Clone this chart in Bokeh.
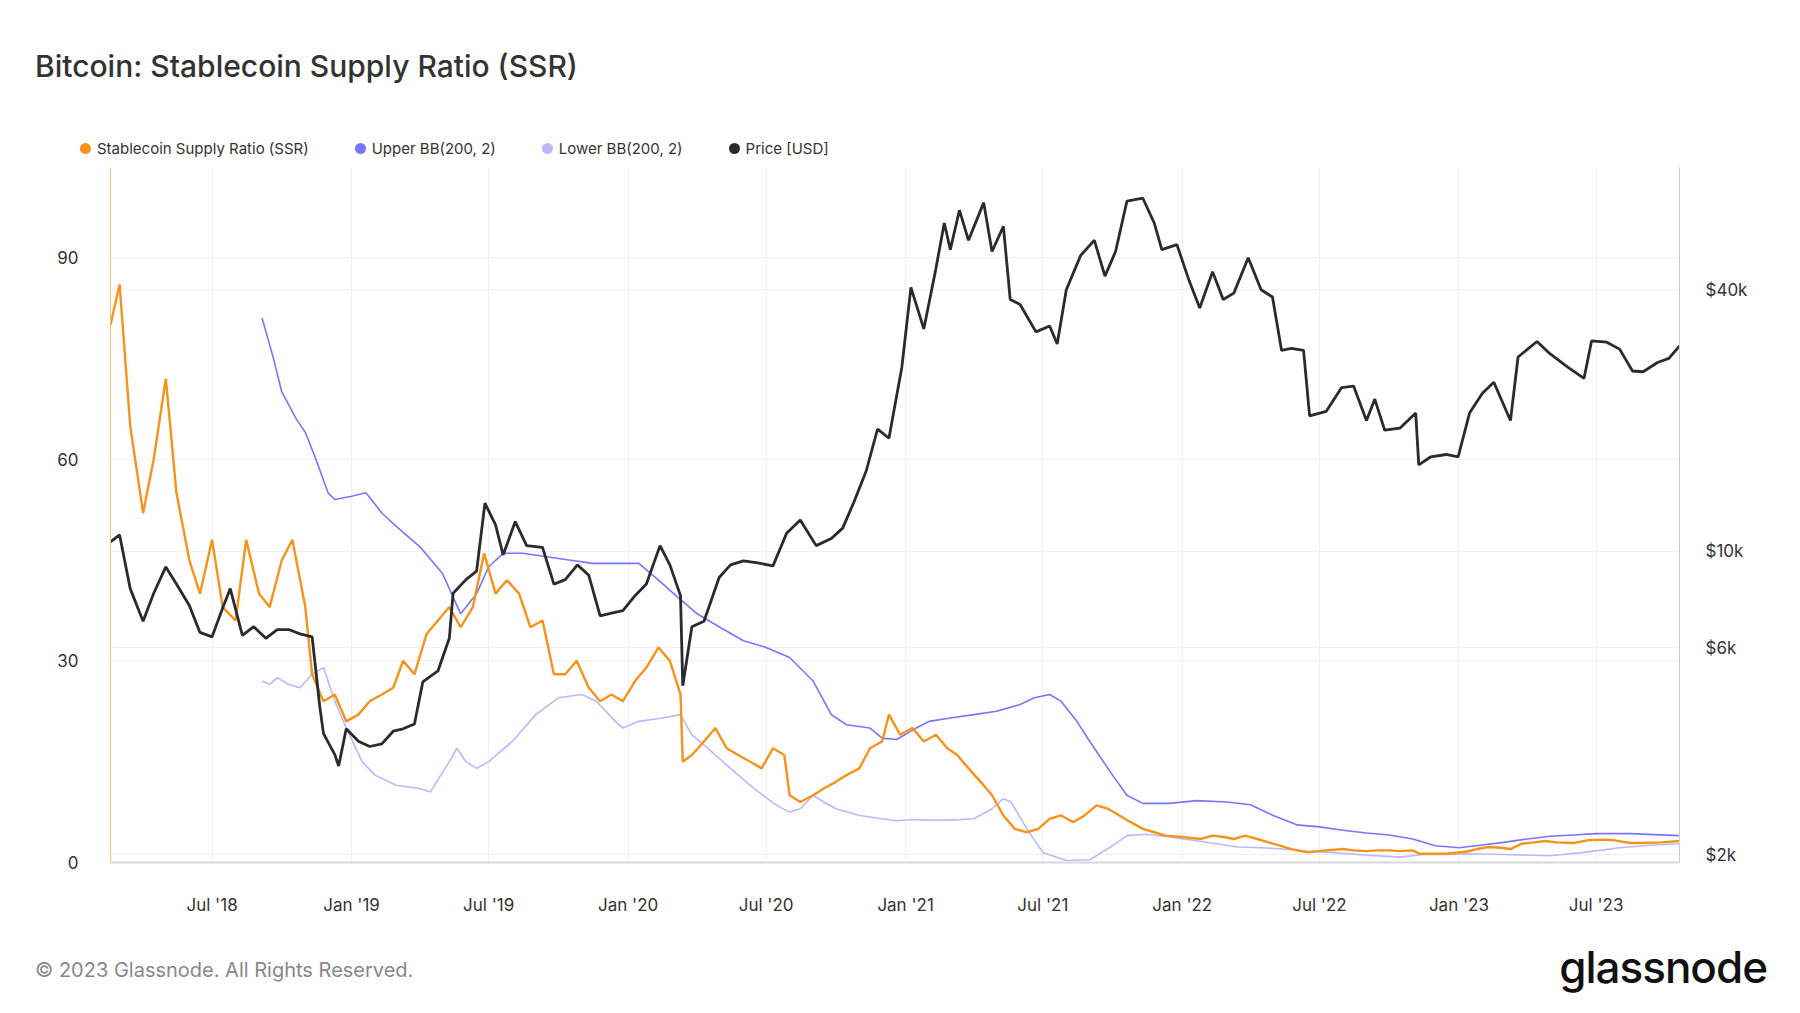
import numpy as np, pandas as pd
from datetime import datetime
from bokeh.plotting import figure
from bokeh.layouts import column
from bokeh.models import (Range1d, LogAxis, LogScale, FixedTicker, Grid, Div)
from bokeh.embed import file_html
from bokeh.resources import INLINE

ssr_dates = ["2018-02-17","2018-03-01","2018-03-15","2018-04-01","2018-04-15","2018-05-01","2018-05-15","2018-06-01","2018-06-15","2018-07-01","2018-07-15","2018-08-01","2018-08-15","2018-09-01","2018-09-15","2018-10-01","2018-10-15","2018-11-01","2018-11-10","2018-11-25","2018-12-10","2018-12-25",
"2019-01-10","2019-01-25","2019-02-10","2019-02-25","2019-03-10","2019-03-25","2019-04-10","2019-04-25","2019-05-10","2019-05-25","2019-06-10","2019-06-25","2019-07-10","2019-07-25","2019-08-10","2019-08-25","2019-09-10","2019-09-25","2019-10-10","2019-10-25","2019-11-10","2019-11-25","2019-12-10","2019-12-25",
"2020-01-10","2020-01-25","2020-02-10","2020-02-25","2020-03-10","2020-03-13","2020-03-25","2020-04-10","2020-04-25","2020-05-10","2020-05-25","2020-06-10","2020-06-25","2020-07-10","2020-07-25","2020-08-01","2020-08-15","2020-09-01","2020-09-15","2020-10-01","2020-10-15","2020-11-01","2020-11-15","2020-12-01","2020-12-10","2020-12-25",
"2021-01-10","2021-01-25","2021-02-10","2021-02-25","2021-03-10","2021-03-25","2021-04-10","2021-04-25","2021-05-10","2021-05-25","2021-06-10","2021-06-25","2021-07-10","2021-07-25","2021-08-10","2021-08-25","2021-09-10","2021-09-25","2021-10-10","2021-10-25","2021-11-10","2021-11-25","2021-12-10",
"2022-01-01","2022-01-25","2022-02-10","2022-02-25","2022-03-10","2022-03-25","2022-04-10","2022-04-25","2022-05-10","2022-05-25","2022-06-15","2022-07-10","2022-08-01","2022-08-15","2022-09-01","2022-09-15","2022-10-01","2022-10-15","2022-11-01","2022-11-10","2022-12-01","2022-12-15",
"2023-01-10","2023-01-25","2023-02-10","2023-02-25","2023-03-10","2023-03-25","2023-04-10","2023-04-25","2023-05-10","2023-06-01","2023-06-20","2023-07-10","2023-07-25","2023-08-15","2023-09-01","2023-09-25","2023-10-19"]
ssr_values = [80,86,65,52,60,72,55,45,40,48,38,36,48,40,38,45,48,38,28,24,25,21,
22,24,25,26,30,28,34,36,38,35,38,46,40,42,40,35,36,28,28,30,26,24,25,24,
27,29,32,30,25,15,16,18,20,17,16,15,14,17,16,10,9,10,11,12,13,14,17,18,22,19,
20,18,19,17,16,14,12,10,7,5,4.5,5,6.5,7,6,7,8.5,8,7,6,5,4.5,4,
3.8,3.5,4,3.8,3.5,4,3.5,3,2.5,2,1.5,1.8,2,1.8,1.7,1.8,1.8,1.7,1.8,1.3,1.3,1.3,
1.6,2,2.3,2.2,2.0,2.8,3.0,3.2,3.0,2.9,3.3,3.4,3.3,2.9,2.9,3.0,3.2]

upper_dates = ["2018-09-05","2018-09-20","2018-10-01","2018-10-20","2018-11-01","2018-11-15","2018-12-01","2018-12-10","2019-01-01","2019-01-20","2019-02-10","2019-03-01","2019-04-01","2019-05-01","2019-05-25","2019-06-15","2019-07-01","2019-07-20","2019-08-15","2019-09-15","2019-10-15","2019-11-15","2019-12-15",
"2020-01-15","2020-02-10","2020-03-01","2020-04-01","2020-05-01","2020-06-01","2020-07-01","2020-08-01","2020-09-01","2020-09-25","2020-10-15","2020-11-15","2020-12-01","2020-12-20",
"2021-01-15","2021-02-01","2021-03-01","2021-04-01","2021-05-01","2021-06-01","2021-06-20","2021-07-10","2021-07-25","2021-08-15","2021-09-01","2021-10-01","2021-10-20","2021-11-10","2021-12-15",
"2022-01-20","2022-03-01","2022-04-01","2022-05-01","2022-06-01","2022-07-01","2022-08-01","2022-09-01","2022-10-01","2022-11-01","2022-12-01",
"2023-01-01","2023-02-01","2023-03-01","2023-04-01","2023-05-01","2023-06-01","2023-07-01","2023-08-15","2023-10-19"]
upper_values = [81,75,70,66,64,60,55,54,54.5,55,52,50,47,43,37,40,44,46,46,45.5,45,44.5,44.5,
44.5,42,40,37,35,33,32,30.5,27,22,20.5,20,18.5,18.3,
20,21,21.5,22,22.5,23.5,24.5,25,24,21,18,13,10,8.8,8.8,
9.2,9.0,8.6,7,5.6,5.3,4.8,4.4,4.1,3.5,2.5,
2.2,2.6,3.0,3.5,3.9,4.1,4.3,4.3,4.0]

lower_dates = ["2018-09-05","2018-09-15","2018-09-25","2018-10-10","2018-10-25","2018-11-10","2018-11-25","2018-12-10","2018-12-25","2019-01-15","2019-02-01","2019-03-01","2019-04-01","2019-04-15","2019-05-10","2019-05-20","2019-06-01","2019-06-15","2019-07-01","2019-08-01","2019-09-01","2019-10-01","2019-11-01","2019-11-20","2019-12-15","2019-12-25",
"2020-01-15","2020-02-15","2020-03-10","2020-03-25","2020-04-15","2020-05-15","2020-06-15","2020-07-15","2020-08-01","2020-08-15","2020-09-01","2020-09-15","2020-10-01","2020-11-01","2020-12-01","2020-12-20",
"2021-01-10","2021-02-01","2021-03-01","2021-04-01","2021-04-25","2021-05-10","2021-05-20","2021-06-10","2021-07-01","2021-08-01","2021-09-01","2021-10-01","2021-10-20","2021-11-15","2021-12-15",
"2022-01-15","2022-02-15","2022-03-15","2022-04-15","2022-05-15","2022-06-15","2022-07-15","2022-09-01","2022-10-15","2022-11-15","2022-12-15",
"2023-01-15","2023-03-01","2023-05-01","2023-06-15","2023-08-01","2023-09-15","2023-10-19"]
lower_values = [27,26.5,27.5,26.5,26,28,29,24,20,15,13,11.5,11,10.5,15,17,15,14,15,18,22,24.5,25,24,21,20,
21,21.5,22,19,17,14,11,8.5,7.5,8,10,9,8,7,6.5,6.2,
6.4,6.3,6.3,6.5,8,9.5,9,5,1.5,0.3,0.4,2.5,4,4.2,3.8,
3.3,2.8,2.3,2.2,2.0,1.7,1.5,1.1,0.8,1.2,1.2,
1.3,1.2,1.0,1.5,2.2,2.6,2.8]

price_dates = ["2018-02-17","2018-03-01","2018-03-15","2018-04-01","2018-04-15","2018-05-01","2018-05-15","2018-06-01","2018-06-15","2018-07-01","2018-07-15","2018-07-25","2018-08-10","2018-08-25","2018-09-10","2018-09-25","2018-10-10","2018-10-25","2018-11-10","2018-11-20","2018-11-25","2018-12-10","2018-12-15","2018-12-25",
"2019-01-10","2019-01-25","2019-02-10","2019-02-25","2019-03-10","2019-03-25","2019-04-05","2019-04-25","2019-05-10","2019-05-15","2019-06-01","2019-06-15","2019-06-26","2019-07-10","2019-07-20","2019-08-05","2019-08-20","2019-09-10","2019-09-25","2019-10-10","2019-10-26","2019-11-10","2019-11-25","2019-12-10","2019-12-25",
"2020-01-10","2020-01-25","2020-02-12","2020-02-25","2020-03-10","2020-03-13","2020-03-25","2020-04-10","2020-04-30","2020-05-15","2020-06-01","2020-06-20","2020-07-10","2020-07-28","2020-08-15","2020-09-05","2020-09-25","2020-10-10","2020-10-25","2020-11-10","2020-11-25","2020-12-10","2020-12-27",
"2021-01-08","2021-01-25","2021-02-10","2021-02-21","2021-03-01","2021-03-13","2021-03-25","2021-04-14","2021-04-25","2021-05-10","2021-05-19","2021-06-01","2021-06-22","2021-07-10","2021-07-20","2021-08-01","2021-08-20","2021-09-07","2021-09-21","2021-10-05","2021-10-20","2021-11-10","2021-11-25","2021-12-05","2021-12-25",
"2022-01-10","2022-01-24","2022-02-10","2022-02-24","2022-03-10","2022-03-29","2022-04-15","2022-04-30","2022-05-12","2022-05-25","2022-06-10","2022-06-18","2022-07-10","2022-07-30","2022-08-15","2022-09-01","2022-09-12","2022-09-25","2022-10-15","2022-11-05","2022-11-09","2022-11-25","2022-12-15","2022-12-31",
"2023-01-15","2023-02-01","2023-02-16","2023-03-10","2023-03-20","2023-04-14","2023-05-01","2023-05-25","2023-06-15","2023-06-25","2023-07-15","2023-08-01","2023-08-18","2023-09-01","2023-09-20","2023-10-05","2023-10-19"]
price_values = [10500,10900,8200,6900,8000,9200,8400,7500,6500,6350,7400,8200,6400,6700,6300,6600,6600,6450,6350,4400,3800,3400,3200,3900,
3650,3550,3600,3850,3900,4000,5000,5300,6300,8000,8600,9000,12900,11500,9800,11700,10300,10200,8400,8600,9300,8800,7100,7200,7300,
7900,8400,10300,9300,7900,4900,6700,6900,8700,9300,9500,9400,9250,11000,11800,10300,10700,11300,13000,15300,19100,18200,26500,
40500,32500,44800,57000,49500,61000,52000,63500,49000,56000,38000,37000,32000,33000,30000,40000,48000,52000,43000,49000,64000,65000,57000,49500,50800,
42000,36300,44000,38000,39300,47400,40000,38500,29000,29300,29000,20500,21000,23800,24000,20000,22400,19000,19200,20800,15800,16500,16700,16500,
20800,23100,24500,20000,28000,30400,28500,26500,25000,30500,30300,29200,26000,25900,27200,27800,29700]

legend_labels = ["Stablecoin Supply Ratio (SSR)", "Upper BB(200, 2)", "Lower BB(200, 2)", "Price [USD]"]
legend_colors = ["#f7931a", "#7676ff", "#b9b9fb", "#2b2b2b"]

to_dt = lambda l: pd.to_datetime(l)
FONT = "Inter"
W = 1784

items = "".join(
    f'<span style="display:inline-flex;align-items:center;margin-right:46px">'
    f'<span style="width:11px;height:11px;border-radius:50%;background:{c};display:inline-block;margin-right:6px"></span>{t}</span>'
    for t, c in zip(legend_labels, legend_colors))
header = Div(width=W, height=152, text=(
    f'<div style="font-family:{FONT};color:#333">'
    f'<div style="position:absolute;left:30px;top:40px;font-size:30px;font-weight:500">Bitcoin: Stablecoin Supply Ratio (SSR)</div>'
    f'<div style="position:absolute;left:75px;top:133px;font-size:15px;white-space:nowrap">{items}</div></div>'))

p = figure(width=W, height=765, x_axis_type="datetime", output_backend="svg", toolbar_location=None,
           x_range=Range1d(pd.Timestamp("2018-02-17"), pd.Timestamp("2023-10-19")),
           y_range=Range1d(0, 103.4), min_border_left=110, min_border_right=105,
           min_border_top=5, min_border_bottom=65)
p.extra_y_ranges = {"price": Range1d(1919, 76500)}
p.extra_y_scales = {"price": LogScale()}
p.outline_line_color = None

p.xgrid.grid_line_color = "#f0f0f0"
p.ygrid.grid_line_color = "#f0f0f0"
p.yaxis.ticker = FixedTicker(ticks=[0, 30, 60, 90])

ticks = [datetime(y, m, 1) for y in range(2018, 2024) for m in (1, 7)][1:]
tick_ms = [pd.Timestamp(t).value // 10**6 for t in ticks]
p.xaxis.ticker = FixedTicker(ticks=tick_ms)
p.xaxis.major_label_overrides = {ms: t.strftime("%b '%y") for ms, t in zip(tick_ms, ticks)}
for ax in (p.xaxis[0], p.yaxis[0]):
    ax.major_label_text_font = FONT
    ax.major_label_text_font_size = "17px"
    ax.major_label_text_color = "#333333"
    ax.major_tick_line_color = None
    ax.minor_tick_line_color = None
p.xaxis.axis_line_color = "#d8d8d8"
p.xaxis.axis_line_width = 2
p.xaxis.major_label_standoff = 26
p.yaxis.axis_line_color = "#f7c27a"
p.yaxis.major_label_standoff = 26

rax = LogAxis(y_range_name="price", ticker=FixedTicker(ticks=[2000, 6000, 10000, 40000]),
              major_label_overrides={2000: "$2k", 6000: "$6k", 10000: "$10k", 40000: "$40k"})
rax.major_label_text_font = FONT
rax.major_label_text_font_size = "17px"
rax.major_label_text_color = "#333333"
rax.major_tick_line_color = None
rax.minor_tick_line_color = None
rax.axis_line_color = "#cccccc"
rax.major_label_standoff = 20
p.add_layout(rax, "right")
p.add_layout(Grid(dimension=1, ticker=rax.ticker, y_range_name="price", grid_line_color="#f0f0f0"))

p.line(to_dt(lower_dates), lower_values, color=legend_colors[2], line_width=1.6)
p.line(to_dt(upper_dates), upper_values, color=legend_colors[1], line_width=1.6)
p.line(to_dt(ssr_dates), ssr_values, color=legend_colors[0], line_width=2.4)
p.line(to_dt(price_dates), price_values, color=legend_colors[3], line_width=2.8, y_range_name="price")

footer = Div(width=W, height=70, text=(
    f'<div style="font-family:{FONT};position:relative;width:{W}px;height:70px">'
    f'<div style="position:absolute;left:30px;top:24px;font-size:20px;color:#888">© 2023 Glassnode. All Rights Reserved.</div>'
    f'<div style="position:absolute;right:22px;top:4px;font-size:44px;font-weight:500;color:#111;letter-spacing:-1px">glassnode</div></div>'))

open("out.html", "w").write(file_html(column(header, p, footer, spacing=0), INLINE))
